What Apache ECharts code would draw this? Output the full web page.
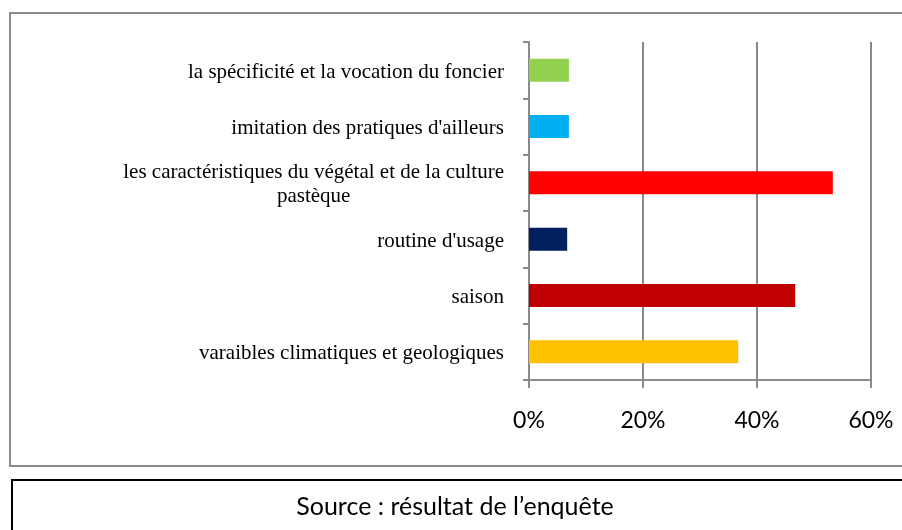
<!DOCTYPE html>
<html>
<head>
<meta charset="utf-8">
<script src="https://cdn.jsdelivr.net/npm/echarts@6/dist/echarts.min.js"></script>
<style>
  html, body { margin: 0; padding: 0; background: #fff; }
  #chart { width: 902px; height: 530px; }
</style>
</head>
<body>
<div id="chart"></div>
<script>
// categories from top to bottom
const categories = [
    'la spécificité et la vocation du foncier',
    "imitation des pratiques d'ailleurs",
    'les caractéristiques du végétal et de la culture\npastèque',
    "routine d'usage",
    'saison',
    'varaibles climatiques et geologiques'
];
// percentages
const values = [7, 7, 53.3, 6.7, 46.7, 36.7];
const barColors = ['#92D050', '#00B0F0', '#FF0000', '#002060', '#C00000', '#FFC000'];
const sourceText = 'Source : résultat de l\u2019enquête';

const gridColor = '#8a8a8a';

let myChart = echarts.init(document.getElementById('chart'));
let option = {
    animation: false,
    grid: {
        left: 529,
        top: 42,
        right: 31,
        bottom: 150
    },
    xAxis: {
        type: 'value',
        min: 0,
        max: 60,
        interval: 20,
        axisLine: { show: true, lineStyle: { color: gridColor, width: 2 } },
        axisTick: { show: true, length: 8, lineStyle: { color: gridColor, width: 2 } },
        splitLine: { show: true, lineStyle: { color: gridColor, width: 2 } },
        axisLabel: {
            formatter: '{value}%',
            fontFamily: 'Lato',
            fontSize: 23,
            color: '#000',
            margin: 29
        }
    },
    yAxis: {
        type: 'category',
        inverse: true,
        data: categories,
        axisLine: { show: true, lineStyle: { color: gridColor, width: 2 } },
        axisTick: { show: true, length: 6, lineStyle: { color: gridColor, width: 2 } },
        axisLabel: {
            margin: 25,
            padding: [4, 0, 0, 0],
            // each line centred inside the label block
            formatter: function (val) {
                return val.split('\n').map(function (s) { return '{c|' + s + '}'; }).join('\n');
            },
            rich: {
                c: {
                    fontFamily: 'Liberation Serif',
                    fontSize: 21,
                    lineHeight: 24,
                    color: '#000',
                    align: 'center'
                }
            }
        }
    },
    series: [
        {
            type: 'bar',
            barWidth: 23,
            data: values.map(function (v, i) {
                return { value: v, itemStyle: { color: barColors[i] } };
            })
        }
    ],
    graphic: [
        {
            type: 'rect',
            shape: { x: 10, y: 13, width: 900, height: 453 },
            style: { fill: 'none', stroke: '#8a8a8a', lineWidth: 2 },
            z: 10
        },
        {
            type: 'rect',
            shape: { x: 12, y: 480, width: 900, height: 60 },
            style: { fill: 'none', stroke: '#000', lineWidth: 2 },
            z: 10
        },
        {
            type: 'text',
            x: 455,
            y: 507,
            style: {
                text: sourceText,
                fontFamily: 'Lato',
                fontSize: 25,
                fill: '#000',
                align: 'center',
                verticalAlign: 'middle'
            },
            z: 10
        }
    ]
};
myChart.setOption(option);
</script>
</body>
</html>
